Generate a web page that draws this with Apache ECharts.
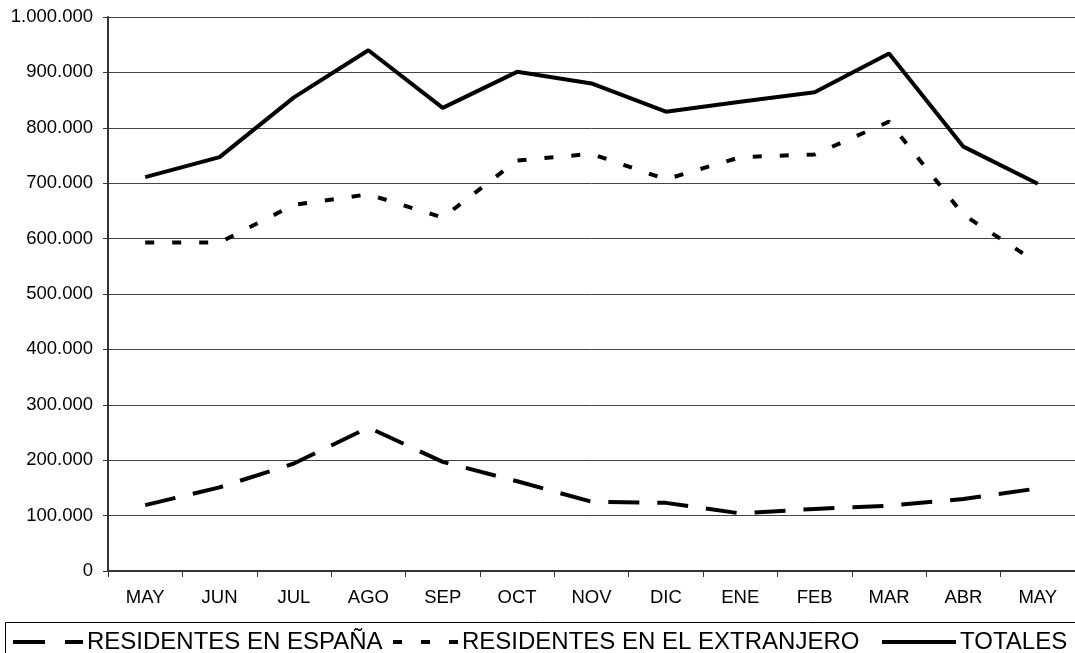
<!DOCTYPE html>
<html>
<head>
<meta charset="utf-8">
<script src="https://cdn.jsdelivr.net/npm/echarts@6/dist/echarts.min.js"></script>
<style>
html,body{margin:0;padding:0;background:#fff;}
#chart{width:1075px;height:653px;}
</style>
</head>
<body>
<div id="chart"></div>
<script>
const categories = ['MAY','JUN','JUL','AGO','SEP','OCT','NOV','DIC','ENE','FEB','MAR','ABR','MAY'];
const espana = [119000,151000,194000,259000,197000,162000,125000,123000,104000,112000,118000,130000,149000];
const extranjero = [593000,593000,661000,680000,638000,741000,753000,707000,747000,752000,811000,643000,556000];
const totales = [711000,747000,855000,940000,836000,901000,880000,829000,847000,864000,934000,766000,699000];
const seriesNames = ['RESIDENTES EN ESPAÑA','RESIDENTES EN EL EXTRANJERO','TOTALES'];

const FONT = '"Liberation Sans", Arial, sans-serif';
function fmt(v){return String(Math.round(v)).replace(/\B(?=(\d{3})+(?!\d))/g,'.');}

const chart = echarts.init(document.getElementById('chart'), null, {renderer:'canvas'});
const legendBase = {
  orient:'horizontal', top:630, padding:0, itemHeight:4, itemGap:0,
  textStyle:{fontFamily:FONT,fontSize:24,color:'#000',padding:[0,0,0,-1]}
};
chart.setOption({
  animation:false,
  backgroundColor:'#fff',
  grid:{left:108, top:17, width:972, height:554},
  graphic:[{type:'rect', shape:{x:5.5,y:622.5,width:1080,height:50}, style:{fill:'none',stroke:'#000',lineWidth:1}, z:-1}],
  legend:[
    Object.assign({}, legendBase, {left:13, itemWidth:70, data:[{name:seriesNames[0], icon:'path://M0,0h32v4h-32z M52,0h18v4h-18z'}]}),
    Object.assign({}, legendBase, {left:393, itemWidth:65, data:[{name:seriesNames[1], icon:'path://M0,0h9v4h-9z M28,0h9v4h-9z M56,0h9v4h-9z'}]}),
    Object.assign({}, legendBase, {left:882, itemWidth:74, data:[{name:seriesNames[2], icon:'path://M0,0h74v4h-74z'}]})
  ],
  xAxis:{
    type:'category', data:categories, boundaryGap:true,
    axisLine:{lineStyle:{color:'#333',width:2}},
    axisTick:{show:true, length:6, lineStyle:{color:'#333',width:1}},
    axisLabel:{fontFamily:FONT,fontSize:18.5,color:'#000',margin:17,interval:0},
    splitLine:{show:false}
  },
  yAxis:{
    type:'value', min:0, max:1000000, interval:100000,
    axisLine:{show:true, lineStyle:{color:'#333',width:2}},
    axisTick:{show:true, length:5, lineStyle:{color:'#333',width:1}},
    axisLabel:{fontFamily:FONT,fontSize:18.5,color:'#000',margin:15,formatter:fmt},
    splitLine:{show:true, lineStyle:{color:'#444',width:1}}
  },
  series:[
    {name:seriesNames[0], type:'line', data:espana, symbol:'none', lineStyle:{color:'#000',width:4,type:[31,18],cap:'butt'}, itemStyle:{color:'#000'}},
    {name:seriesNames[1], type:'line', data:extranjero, symbol:'none', lineStyle:{color:'#000',width:4,type:[9,18],cap:'butt'}, itemStyle:{color:'#000'}},
    {name:seriesNames[2], type:'line', data:totales, symbol:'none', lineStyle:{color:'#000',width:4,type:'solid'}, itemStyle:{color:'#000'}}
  ]
});
</script>
</body>
</html>
